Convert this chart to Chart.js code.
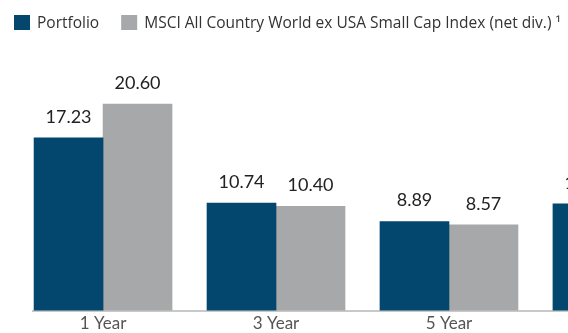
<!DOCTYPE html>
<html>
<head>
<meta charset="utf-8">
<script src="https://cdn.jsdelivr.net/npm/chart.js@4"></script>
<style>
  html, body { margin: 0; padding: 0; background: #fff; overflow: hidden; }
  #frame { width: 568px; height: 333px; overflow: hidden; position: relative; }
  #wrap { width: 692px; height: 333px; position: absolute; left: 0; top: 0; }
</style>
</head>
<body>
<div id="frame">
  <div id="wrap"><canvas id="returnsChart"></canvas></div>
</div>
<script>
// average annual total returns (%)
var categories = ['1 Year', '3 Year', '5 Year', '10 Year'];
var portfolio = [17.23, 10.74, 8.89, 10.66];
var benchmark = [20.60, 10.40, 8.57, null];
var seriesNames = ['Portfolio', 'MSCI All Country World ex USA Small Cap Index (net div.) \u00b9'];

var BLUE = '#03466e';
var GREY = '#a7a8aa';
var FONT = 'Lato, "Open Sans", sans-serif';

function points(values) {
  return values.map(function (v, i) { return { x: i, y: v }; });
}

// prints each bar's value above it
var valueLabels = {
  id: 'valueLabels',
  afterDatasetsDraw: function (chart) {
    var ctx = chart.ctx;
    ctx.save();
    ctx.font = '18px ' + FONT;
    ctx.fillStyle = '#222';
    ctx.textAlign = 'center';
    ctx.textBaseline = 'middle';
    chart.data.datasets.forEach(function (ds, d) {
      chart.getDatasetMeta(d).data.forEach(function (bar, i) {
        var v = ds.data[i].y;
        if (v === null) return;
        ctx.fillText(v.toFixed(2), bar.x, bar.y - 21);
      });
    });
    ctx.restore();
  }
};

// single-row legend along the top left
var topLegend = {
  id: 'topLegend',
  afterDraw: function (chart) {
    var ctx = chart.ctx;
    var x = 14, cy = 22.5, boxW = 16, boxH = 15, gap = 22;
    ctx.save();
    ctx.font = '15.5px "Open Sans", sans-serif';
    ctx.textBaseline = 'middle';
    ctx.textAlign = 'left';
    chart.data.datasets.forEach(function (ds) {
      ctx.fillStyle = ds.backgroundColor;
      ctx.fillRect(x, cy - boxH / 2, boxW, boxH);
      ctx.fillStyle = '#333';
      ctx.fillText(ds.label, x + boxW + 7, cy + 1);
      x += boxW + 7 + ctx.measureText(ds.label).width + gap;
    });
    ctx.restore();
  }
};

var ctxBar = document.getElementById('returnsChart').getContext('2d');
var myChart = new Chart(ctxBar, {
  type: 'bar',
  data: {
    datasets: [{
      label: seriesNames[0],
      data: points(portfolio),
      backgroundColor: BLUE,
      borderWidth: 0,
      barThickness: 69
    }, {
      label: seriesNames[1],
      data: points(benchmark),
      backgroundColor: GREY,
      borderWidth: 0,
      barThickness: 69
    }]
  },
  options: {
    responsive: true,
    maintainAspectRatio: false,
    animation: false,
    layout: { padding: { top: 40, left: 0, right: 0, bottom: -4 } },
    plugins: {
      legend: { display: false },
      tooltip: { enabled: false }
    },
    scales: {
      x: {
        type: 'linear',
        offset: false,
        min: -0.405,
        max: 3.405,
        grid: { display: false, drawTicks: false, offset: false },
        border: { display: true, color: '#c9c9c9', width: 2 },
        ticks: {
          stepSize: 1,
          includeBounds: false,
          autoSkip: false,
          maxRotation: 0,
          padding: 3,
          color: '#555',
          font: { family: FONT, size: 17 },
          callback: function (value) { return categories[value] || ''; }
        }
      },
      y: {
        min: 0,
        max: 27,
        grid: { display: false },
        border: { display: false },
        ticks: { display: false },
        afterFit: function (scale) { scale.width = 33; }
      }
    }
  },
  plugins: [valueLabels, topLegend]
});
</script>
</body>
</html>
